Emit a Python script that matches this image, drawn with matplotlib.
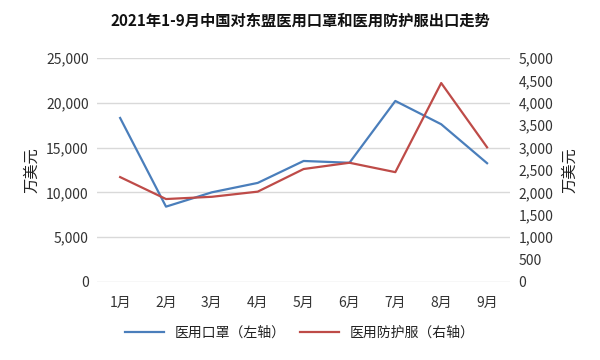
import matplotlib
matplotlib.use('Agg')
import matplotlib.pyplot as plt
from matplotlib.ticker import FuncFormatter

plt.rcParams['font.family'] = ['Noto Sans CJK SC', 'DejaVu Sans']

months = ['1月', '2月', '3月', '4月', '5月', '6月', '7月', '8月', '9月']
masks = [18300, 8400, 10000, 11050, 13500, 13300, 20200, 17600, 13250]      # left axis
suits = [2340, 1850, 1900, 2015, 2520, 2660, 2450, 4440, 3005]             # right axis

blue = '#4a7ebb'
red = '#be4b48'
tick_color = '#333333'

fig = plt.figure(figsize=(6, 3.6), dpi=100)
ax = fig.add_axes([0.162, 0.217, 0.688, 0.622])
ax2 = ax.twinx()

x = range(len(months))
l1, = ax.plot(x, masks, color=blue, lw=1.6, label='医用口罩（左轴）')
l2, = ax2.plot(x, suits, color=red, lw=1.6, label='医用防护服（右轴）')

fmt = FuncFormatter(lambda v, p: f'{int(v):,}')
ax.set_ylim(0, 25000)
ax.set_yticks(range(0, 25001, 5000))
ax.yaxis.set_major_formatter(fmt)
ax2.set_ylim(0, 5000)
ax2.set_yticks(range(0, 5001, 500))
ax2.yaxis.set_major_formatter(fmt)
ax.set_xlim(-0.5, 8.5)
ax.set_xticks(list(x))
ax.set_xticklabels(months)

ax.grid(axis='y', color='#d9d9d9', lw=1)
ax.set_axisbelow(True)
for a in (ax, ax2):
    for s in a.spines.values():
        s.set_visible(False)
    a.tick_params(length=0, labelsize=10, colors=tick_color, pad=6)
ax.tick_params(axis='x', pad=10)

ax.set_ylabel('万美元', fontsize=11, color='#222222', labelpad=4)
ax2.set_ylabel('万美元', fontsize=11, color='#222222', labelpad=6)

fig.suptitle('2021年1-9月中国对东盟医用口罩和医用防护服出口走势',
             fontsize=11, fontweight='bold', y=0.965, color='#111111')
fig.legend(handles=[l1, l2], loc='center', bbox_to_anchor=(0.5, 0.075), ncol=2,
           frameon=False, fontsize=10, handlelength=2.8, columnspacing=1.0,
           labelcolor='#222222')

fig.savefig('out.png', dpi=100)
